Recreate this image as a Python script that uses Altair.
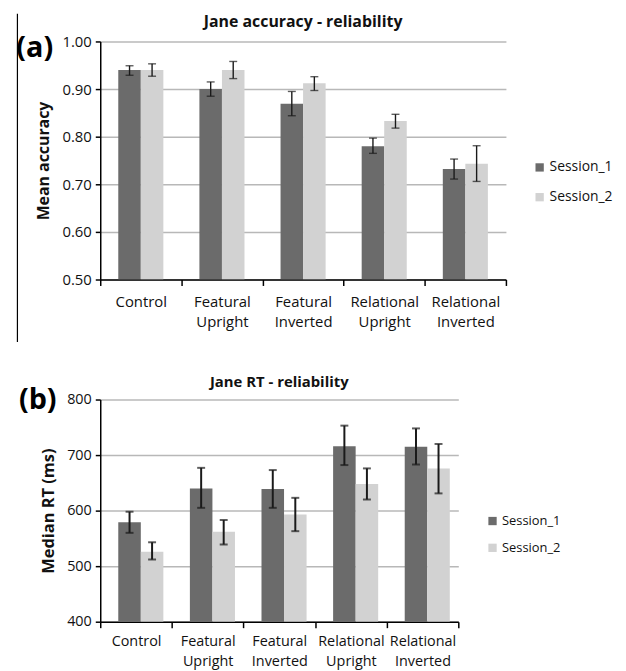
import altair as alt
import pandas as pd

conditions = ["Control", "Featural Upright", "Featural Inverted", "Relational Upright", "Relational Inverted"]
sessions = ["Session_1", "Session_2"]

# Panel (a): mean accuracy
acc_s1 = [0.940, 0.900, 0.869, 0.780, 0.732]
acc_s1_lo = [0.929, 0.885, 0.844, 0.765, 0.711]
acc_s1_hi = [0.949, 0.915, 0.895, 0.797, 0.753]
acc_s2 = [0.940, 0.940, 0.912, 0.833, 0.743]
acc_s2_lo = [0.927, 0.922, 0.897, 0.818, 0.706]
acc_s2_hi = [0.953, 0.958, 0.926, 0.847, 0.781]

# Panel (b): median RT
rt_s1 = [579, 640, 639, 716, 715]
rt_s1_lo = [560, 605, 605, 682, 683]
rt_s1_hi = [598, 677, 673, 753, 748]
rt_s2 = [526, 562, 593, 648, 676]
rt_s2_lo = [512, 539, 563, 620, 631]
rt_s2_hi = [543, 583, 623, 676, 720]


def frame(v1, l1, h1, v2, l2, h2):
    rows = []
    for i, c in enumerate(conditions):
        rows.append(dict(cond=c, session="Session_1", val=v1[i], lo=l1[i], hi=h1[i]))
        rows.append(dict(cond=c, session="Session_2", val=v2[i], lo=l2[i], hi=h2[i]))
    return pd.DataFrame(rows)


df_a = frame(acc_s1, acc_s1_lo, acc_s1_hi, acc_s2, acc_s2_lo, acc_s2_hi)
df_b = frame(rt_s1, rt_s1_lo, rt_s1_hi, rt_s2, rt_s2_lo, rt_s2_hi)

FONT = "Open Sans"
DARK = "#6b6b6b"
LIGHT = "#d2d2d2"


def panel(df, title, ytitle, domain, ticks, fmt, width, height, legx, legy, rowpad,
          letter, letx, lety, sizes, errw, toff, lpad, rule=None):
    tsize, lsize, ysize, legsize, titsize = sizes
    xenc = alt.X("cond:N", sort=conditions, title=None,
                 scale=alt.Scale(paddingInner=0, paddingOuter=0),
                 axis=alt.Axis(labelExpr="split(datum.label, ' ')", labelAngle=0,
                               tickBand="extent", domainColor="#000", domainWidth=1.5,
                               tickColor="#000", tickWidth=1.5, tickSize=6,
                               labelFont=FONT, labelFontSize=lsize, labelColor="#111",
                               labelPadding=lpad, labelLineHeight=20, grid=False))
    xoff = alt.XOffset("session:N", sort=sessions,
                       scale=alt.Scale(paddingInner=0, paddingOuter=0.8))
    yscale = alt.Scale(domain=domain, nice=False, zero=False)
    yaxis = alt.Axis(values=ticks, format=fmt, title=ytitle, titleFont=FONT,
                     titleFontSize=ysize, titleFontWeight="bold", titleColor="#111",
                     titlePadding=10, labelFont=FONT, labelFontSize=tsize,
                     labelColor="#111", labelPadding=4, domainColor="#000",
                     domainWidth=1.5, tickColor="#000", tickWidth=1.5, tickSize=5,
                     grid=True, gridColor="#b8b8b8", gridWidth=1.5)
    bars = alt.Chart(df).mark_bar(clip=True).encode(
        x=xenc, xOffset=xoff,
        y=alt.Y("val:Q", scale=yscale, axis=yaxis),
        y2=alt.datum(domain[0]),
        color=alt.Color("session:N", sort=sessions,
                        scale=alt.Scale(domain=sessions, range=[DARK, LIGHT]),
                        legend=alt.Legend(title=None, orient="none", legendX=legx,
                                          legendY=legy, symbolType="square",
                                          symbolSize=70, symbolStrokeWidth=0,
                                          labelFont=FONT, labelFontSize=legsize,
                                          labelColor="#111", rowPadding=rowpad,
                                          labelOffset=3)),
    )
    err = alt.Chart(df).mark_rule(color="#1a1a1a", strokeWidth=errw).encode(
        x=alt.X("cond:N", sort=conditions), xOffset=alt.XOffset("session:N", sort=sessions),
        y="lo:Q", y2="hi:Q")
    cap_lo = alt.Chart(df).mark_tick(color="#1a1a1a", size=8, thickness=errw).encode(
        x=alt.X("cond:N", sort=conditions), xOffset=alt.XOffset("session:N", sort=sessions),
        y="lo:Q")
    cap_hi = alt.Chart(df).mark_tick(color="#1a1a1a", size=8, thickness=errw).encode(
        x=alt.X("cond:N", sort=conditions), xOffset=alt.XOffset("session:N", sort=sessions),
        y="hi:Q")
    lab = alt.Chart(pd.DataFrame({"t": [letter]})).mark_text(
        font=FONT, fontSize=29, fontWeight="bold", color="#000", align="center",
        baseline="middle").encode(x=alt.value(letx), y=alt.value(lety), text="t:N")
    layers = [bars, err, cap_lo, cap_hi, lab]
    if rule is not None:
        layers.append(alt.Chart(pd.DataFrame({"a": [0]})).mark_rule(
            color="#000", strokeWidth=1.2).encode(
            x=alt.value(rule[0]), y=alt.value(rule[1]), y2=alt.value(rule[2])))
    return alt.layer(*layers).properties(
        width=width, height=height,
        title=alt.TitleParams(title, font=FONT, fontSize=titsize, fontWeight="bold",
                              color="#111", offset=toff, anchor="middle", frame="group"))


pa = panel(df_a, "Jane accuracy - reliability", "Mean accuracy", [0.5, 1.0],
           [0.5, 0.6, 0.7, 0.8, 0.9, 1.0], ".2f", 409, 240, 436, 120, 16,
           "(a)", -66, 7, (15, 15, 16, 14, 16), 1.4, -17, 9, rule=(-83.5, -28, 303))
pb = panel(df_b, "Jane RT - reliability", "Median RT (ms)", [400, 800],
           [400, 500, 600, 700, 800], "d", 361, 224, 389, 116, 13,
           "(b)", -63, 1, (14.5, 14.5, 16.5, 13, 15), 2.0, -3, 7)

chart = alt.vconcat(pa, pb, spacing=32).properties(
    padding={"left": 8, "top": 2, "right": 5, "bottom": 5}
).configure_view(stroke=None).resolve_scale(color="independent")

chart.save("out.html", embed_options={"renderer": "svg", "actions": False})
